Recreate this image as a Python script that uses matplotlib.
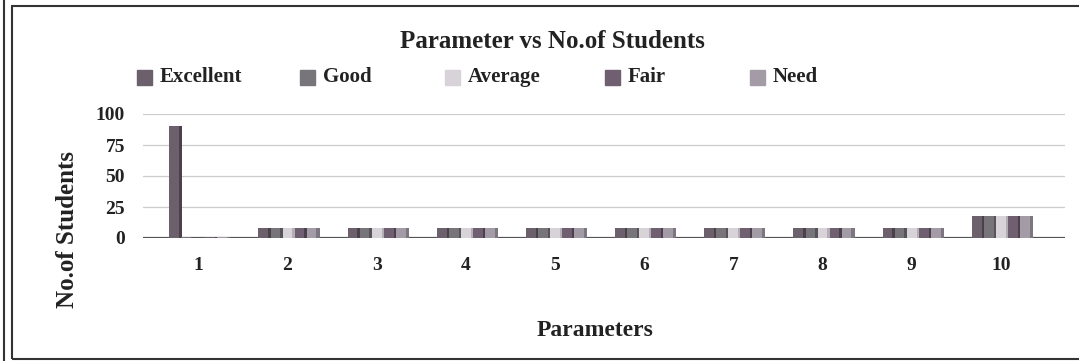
import matplotlib.pyplot as plt
from matplotlib.patches import Rectangle
from matplotlib.lines import Line2D
import numpy as np

# Numero de alunos por nivel em cada parametro
parametros = [1, 2, 3, 4, 5, 6, 7, 8, 9, 10]
niveis = ['Excellent', 'Good', 'Average', 'Fair', 'Need']

excellent = [90, 8, 8, 8, 8, 8, 8, 8, 8, 18]
good = [1, 8, 8, 8, 8, 8, 8, 8, 8, 18]
average = [0, 8, 8, 8, 8, 8, 8, 8, 8, 18]
fair = [1, 8, 8, 8, 8, 8, 8, 8, 8, 18]
need = [1, 8, 8, 8, 8, 8, 8, 8, 8, 18]
series = [excellent, good, average, fair, need]

cores = ['#6b606c', '#77747a', '#d8d2d9', '#6f5f70', '#a39ba6']
lados = ['#4a414b', '#56535a', '#b3adb5', '#4d404e', '#7d7580']

plt.rcParams['font.family'] = 'Liberation Serif'
plt.rcParams['font.weight'] = 'bold'

fig = plt.figure(figsize=(10.79, 3.61), dpi=100)
ax = fig.add_axes([143 / 1079, 123 / 361, 922 / 1079, 124 / 361])

x = np.array(parametros)
passo = 0.135
larg = 0.11
prof = 0.035
for i, (vals, c, s) in enumerate(zip(series, cores, lados)):
    pos = x + (i - 2) * passo
    ax.bar(pos, vals, width=larg, color=c, zorder=3, clip_on=False)
    # face lateral para dar efeito 3D
    ax.bar(pos + larg / 2 + prof / 2, vals, width=prof, color=s,
           zorder=3, clip_on=False)

ax.set_xlim(0.38, 10.72)
ax.set_ylim(0, 100)
ax.set_yticks([0, 25, 50, 75, 100])
ax.set_xticks(parametros)
ax.grid(axis='y', color='#cccccc', lw=0.9, zorder=0)
ax.axhline(0, color='#555555', lw=1.6, zorder=2)
for sp in ax.spines.values():
    sp.set_visible(False)
ax.tick_params(length=0, labelsize=14, colors='#222222')
ax.tick_params(axis='x', pad=14)
ax.tick_params(axis='y', pad=13)

fig.text(552 / 1079, 1 - 41 / 361, 'Parameter vs No.of Students', ha='center',
         va='center', fontsize=18, fontweight='bold', color='#222222')
fig.text(595 / 1079, 1 - 331 / 361, 'Parameters', ha='center', va='center',
         fontsize=17, fontweight='bold', color='#222222')
fig.text(68 / 1079, 1 - 230 / 361, 'No.of Students', ha='center', va='center',
         rotation=90, fontsize=18, fontweight='bold', color='#222222')

# legenda montada a mao
leg_x = [137, 300, 445, 605, 750]
for px, nome, c in zip(leg_x, niveis, cores):
    fig.add_artist(Rectangle((px / 1079, 1 - 85 / 361), 15 / 1079, 15 / 361,
                             transform=fig.transFigure, color=c))
    fig.text((px + 23) / 1079, 1 - 77 / 361, nome, ha='left', va='center',
             fontsize=15, fontweight='bold', color='#222222')

# moldura
fig.add_artist(Rectangle((12 / 1079, 2 / 361), 1075 / 1079, 353 / 361,
                         transform=fig.transFigure, fill=False,
                         edgecolor='#333333', lw=1.5))
fig.add_artist(Line2D([4 / 1079, 4 / 1079], [0, 1], transform=fig.transFigure,
                      color='#333333', lw=1.5))

fig.savefig('out.png', dpi=100)
